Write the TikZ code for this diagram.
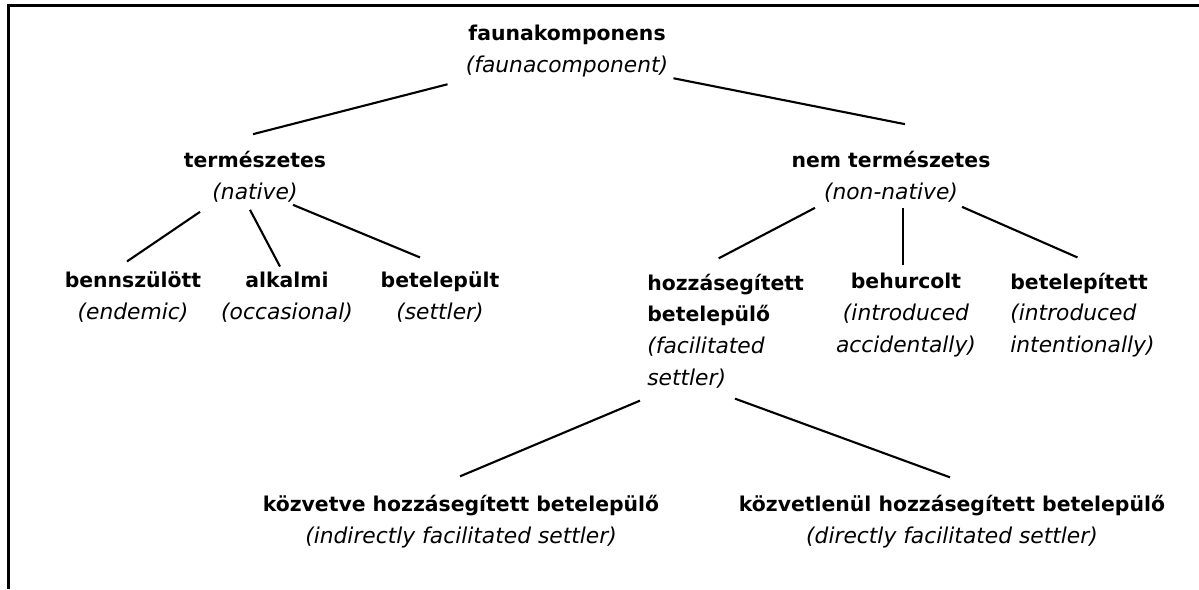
\documentclass[tikz,border=0pt]{standalone}
\usepackage{fontspec}
\setmainfont{DejaVu Sans}
\usetikzlibrary{positioning}

\newcommand{\angol}[1]{{\fontsize{12.4}{18.1}\selectfont\mdseries\itshape #1}}
\tikzset{
  taxon/.style={align=center,inner sep=0pt,font=\fontsize{11.6}{18.1}\selectfont\bfseries},
  link/.style={line width=1.2pt},
}

\begin{document}
\begin{tikzpicture}[x=0.02cm,y=-0.02cm]
    \useasboundingbox (0,0) rectangle (1199,589);
    % frame
    \draw[line width=1.7pt] (8.5,589) |- (1199,5.5);

    \node[taxon] (fauna) at (567,51) {faunakomponens\\\angol{(faunacomponent)}};
    \node[taxon] (nat) at (255,177) {természetes\\\angol{(native)}};
    \node[taxon] (nonnat) at (891,177) {nem természetes\\\angol{(non-native)}};
    \node[taxon] (endem) at (133,297) {bennszülött\\\angol{(endemic)}};
    \node[taxon] (occas) at (287,297) {alkalmi\\\angol{(occasional)}};
    \node[taxon] (settl) at (440,297) {betelepült\\\angol{(settler)}};
    \node[taxon,anchor=west,align=left] (facil) at (647,331) {hozzásegített\\betelepülő\\\angol{(facilitated}\\\angol{settler)}};
    \node[taxon] (accid) at (906,315) {behurcolt\\\angol{(introduced}\\\angol{accidentally)}};
    \node[taxon,anchor=west,align=left] (intent) at (1010,315) {betelepített\\\angol{(introduced}\\\angol{intentionally)}};
    \node[taxon] (indir) at (461,522) {közvetve hozzásegített betelepülő\\\angol{(indirectly facilitated settler)}};
    \node[taxon] (direc) at (952,522) {közvetlenül hozzásegített betelepülő\\\angol{(directly facilitated settler)}};

    \draw[link] ([shift={(-18,7)}]fauna.south west) -- ([shift={(-2,-17)}]nat.north);
    \draw[link] ([shift={(5,1)}]fauna.south east) -- ([shift={(14,-27)}]nonnat.north);
    \draw[link] ([shift={(-55,9)}]nat.south) -- ([shift={(-6,-10)}]endem.north);
    \draw[link] ([shift={(-5,7)}]nat.south) -- ([shift={(-7,-5)}]occas.north);
    \draw[link] ([shift={(38,2)}]nat.south) -- ([shift={(-20,-14)}]settl.north);
    \draw[link] ([shift={(-76,5)}]nonnat.south) -- ([shift={(-7,-15)}]facil.north);
    \draw[link] ([shift={(12,5)}]nonnat.south) -- ([shift={(-3,-8)}]accid.north);
    \draw[link] ([shift={(71,4)}]nonnat.south) -- ([shift={(-5,-15)}]intent.north);
    \draw[link] ([shift={(-7,12)}]facil.south west) -- ([shift={(-1,-19)}]indir.north);
    \draw[link] ([shift={(88,10)}]facil.south west) -- ([shift={(-2,-18)}]direc.north);
\end{tikzpicture}
\end{document}
